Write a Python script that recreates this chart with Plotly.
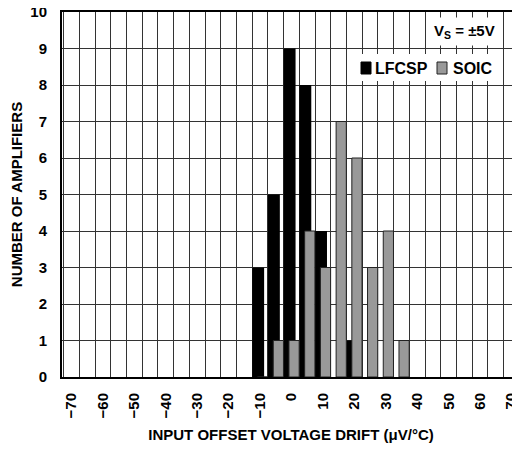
import plotly.graph_objects as go

# bin centers (µV/°C)
bin_centers = [-10, -5, 0, 5, 10, 15, 20, 25, 30, 35]
lfcsp_counts = [3, 5, 9, 8, 4, 0, 1, 0, 0, 0]
soic_counts = [0, 1, 1, 4, 3, 7, 6, 3, 4, 1]
y_ticks = list(range(0, 11))
series_names = ["LFCSP", "SOIC"]
series_colors = ["#000000", "#999999"]

FONT = "Liberation Sans, Arial, sans-serif"
OFF = 8  # page body margin
W, H = 520 - OFF, 449 - OFF
PLOT_L, PLOT_T, PLOT_B = 62 - OFF, 12 - OFF, 377 - OFF
PW, PH = W - PLOT_L, PLOT_B - PLOT_T


def px_x(p):
    # p in screenshot pixels
    return (p - OFF - PLOT_L) / PW


def px_y(p):
    return (PLOT_B - (p - OFF)) / PH


fig = go.Figure()
fig.add_trace(go.Bar(
    x=bin_centers, y=lfcsp_counts, name=series_names[0],
    offset=-2.5, width=3.8,
    marker=dict(color=series_colors[0], line=dict(color="#000000", width=0)),
))
fig.add_trace(go.Bar(
    x=bin_centers, y=soic_counts, name=series_names[1],
    offset=-0.8, width=3.25,
    marker=dict(color=series_colors[1], line=dict(color="#222222", width=1)),
))

shapes = [
    # legend white background
    dict(type="rect", xref="paper", yref="paper",
         x0=px_x(354), x1=px_x(497), y0=px_y(81), y1=px_y(54),
         fillcolor="white", line=dict(width=0), layer="above"),
    # legend swatches
    dict(type="rect", xref="paper", yref="paper",
         x0=px_x(361), x1=px_x(371), y0=px_y(74), y1=px_y(62),
         fillcolor=series_colors[0], line=dict(color="#000000", width=1), layer="above"),
    dict(type="rect", xref="paper", yref="paper",
         x0=px_x(437), x1=px_x(447), y0=px_y(74), y1=px_y(62),
         fillcolor=series_colors[1], line=dict(color="#222222", width=1), layer="above"),
]

annotations = [
    dict(text="V<sub>S</sub> = ±5V", xref="paper", yref="paper",
         x=px_x(464.5), y=px_y(31), xanchor="center", yanchor="middle",
         showarrow=False, bgcolor="white", borderpad=4,
         font=dict(family=FONT, size=15, color="black", weight="bold")),
    dict(text=series_names[0], xref="paper", yref="paper",
         x=px_x(373), y=px_y(68), xanchor="left", yanchor="middle",
         showarrow=False,
         font=dict(family=FONT, size=16, color="black", weight="bold")),
    dict(text=series_names[1], xref="paper", yref="paper",
         x=px_x(451), y=px_y(68), xanchor="left", yanchor="middle",
         showarrow=False,
         font=dict(family=FONT, size=16, color="black", weight="bold")),
]

fig.update_layout(
    width=W, height=H,
    margin=dict(l=PLOT_L, r=0, t=PLOT_T, b=H - PLOT_B, autoexpand=False),
    paper_bgcolor="white", plot_bgcolor="white",
    barmode="overlay",
    font=dict(family=FONT, size=15, color="black", weight="bold"),
    showlegend=False,
    xaxis=dict(
        range=[-73, 72.7], tick0=0, dtick=10, tickangle=-90,
        showgrid=False, zeroline=False, automargin=False,
        showline=True, linecolor="black", linewidth=2, mirror=True,
        ticks="", ticklabelstandoff=8, ticklabeloverflow="allow",
        tickfont=dict(family=FONT, size=15, weight="bold"),
        minor=dict(tick0=2.5, dtick=5, showgrid=True, gridcolor="#333333", gridwidth=1),
        title=dict(text="INPUT OFFSET VOLTAGE DRIFT (μV/°C)", standoff=12,
                   font=dict(family=FONT, size=15, weight="bold")),
    ),
    yaxis=dict(
        range=[0, 10], tickvals=y_ticks,
        showgrid=True, gridcolor="#333333", gridwidth=1, zeroline=False,
        automargin=False,
        showline=True, linecolor="black", linewidth=2, mirror=False,
        ticks="", ticklabelstandoff=10, ticklabeloverflow="allow",
        tickfont=dict(family=FONT, size=15, weight="bold"),
        title=dict(text="NUMBER OF AMPLIFIERS", standoff=14,
                   font=dict(family=FONT, size=15, weight="bold")),
    ),
    shapes=shapes,
    annotations=annotations,
)

fig.write_html("out.html")
